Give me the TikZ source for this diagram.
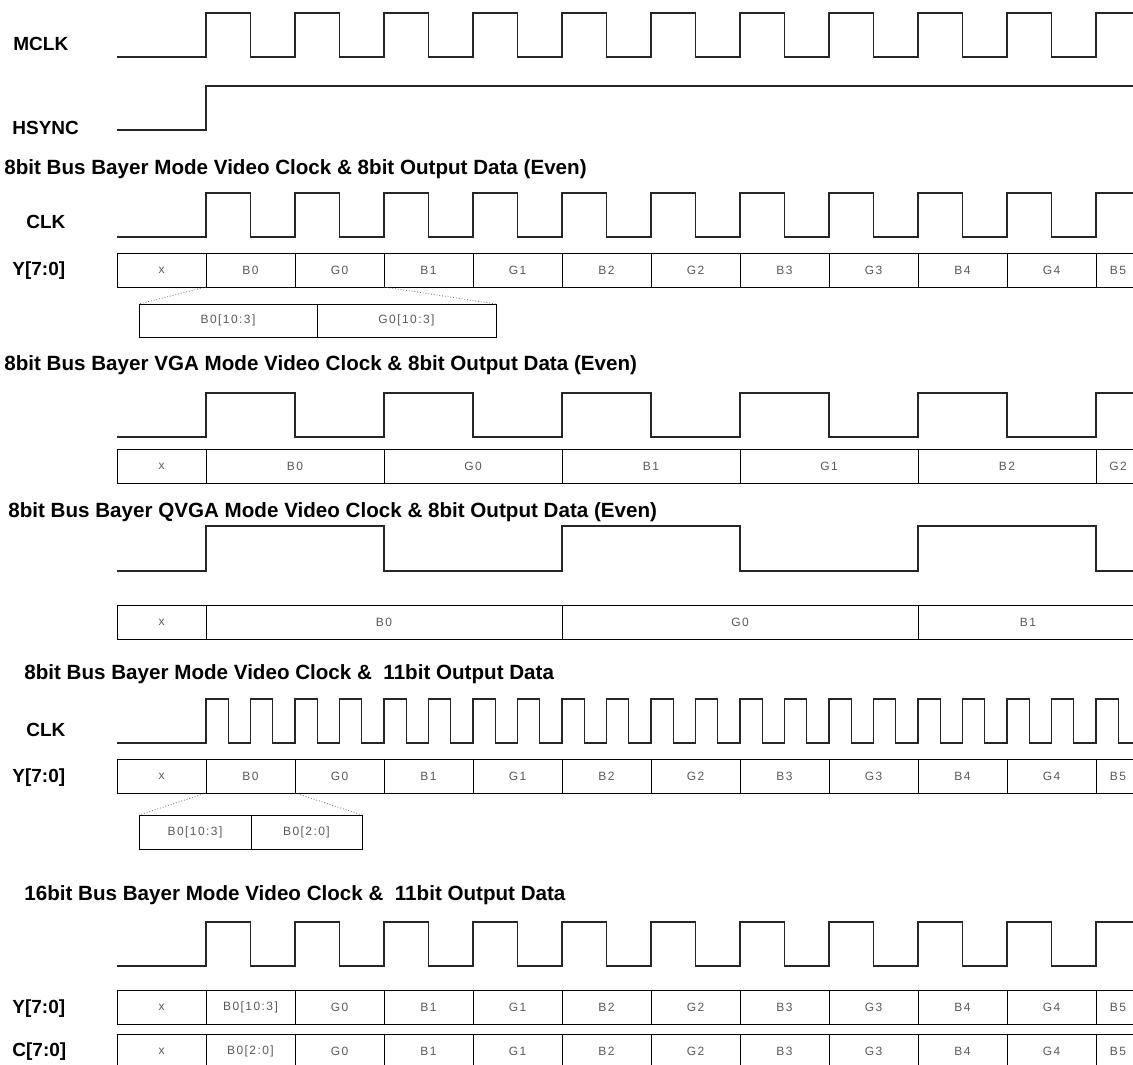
\documentclass[tikz,border=0pt]{standalone}
\usepackage{fontspec}
\setmainfont{Liberation Sans}
\newfontfamily\cellfont[LetterSpace=12]{Liberation Sans}
\usetikzlibrary{positioning}

\begin{document}
\begin{tikzpicture}[x=0.5pt, y=-0.5pt,
        sig/.style={line width=0.6pt, black!85},
        lbl/.style={anchor=west, inner sep=0pt, font=\bfseries\fontsize{9.5}{10}\selectfont},
        ttl/.style={anchor=west, inner sep=0pt, font=\bfseries\fontsize{10.3}{11}\selectfont},
        cell/.style={draw, line width=0.5pt, anchor=west, minimum height=17pt, inner sep=0pt, outer sep=0pt, font=\cellfont\fontsize{6}{6}\selectfont, text=black!65},
        zoomline/.style={densely dotted, line width=0.4pt, black!60}]
    \useasboundingbox (0,0) rectangle (1133,1064);

    % MCLK / HSYNC
    \node[lbl] (mclk) at (13,44) {MCLK};
    \node[lbl] (hsync) at (12,128) {HSYNC};
    \draw[sig] (117,57) -- (206,57) \foreach \k in {1,...,10}{ -- ++(0,-44) -- ++(44.5,0) -- ++(0,44) -- ++(44.5,0)} -- ++(0,-44) -- (1133,13);
    \draw[sig] (117,130) -- (206,130) -- (206,86) -- (1133,86);

    % 8bit bayer
    \node[ttl] (t1) at (4,169) {8bit Bus Bayer Mode Video Clock \& 8bit Output Data (Even)};
    \node[lbl] (clka) at (26,222) {CLK};
    \node[lbl] (ya) at (12,271) {Y[7:0]};
    \draw[sig] (117,237) -- (206,237) \foreach \k in {1,...,10}{ -- ++(0,-44) -- ++(44.5,0) -- ++(0,44) -- ++(44.5,0)} -- ++(0,-44) -- (1133,193);
    \node[cell, minimum width=44.5pt] (a0) at (117,270) {x};
    \foreach \t [count=\i] in {B0,G0,B1,G1,B2,G2,B3,G3,B4,G4}
        \node[cell, minimum width=44.5pt] (a\i) at ({117+89*\i},270) {\t};
    \node[cell, minimum width=22pt] (a11) at (1096,270) {B5};
    \node[cell, minimum width=89pt, minimum height=16.5pt] (ea1) at (139,320.5) {B0[10:3]};
    \node[cell, minimum width=89.5pt, minimum height=16.5pt] (ea2) at (317,320.5) {G0[10:3]};
    \draw[zoomline] (a1.south west) -- (ea1.north west);
    \draw[zoomline] (a3.south west) -- (ea2.north east);

    % VGA
    \node[ttl] (t2) at (4,365) {8bit Bus Bayer VGA Mode Video Clock \& 8bit Output Data (Even)};
    \draw[sig] (117,437) -- (206,437) \foreach \k in {1,...,5}{ -- ++(0,-44) -- ++(89,0) -- ++(0,44) -- ++(89,0)} -- ++(0,-44) -- (1133,393);
    \node[cell, minimum width=44.5pt] (b0) at (117,466) {x};
    \foreach \t [count=\i] in {B0,G0,B1,G1,B2}
        \node[cell, minimum width=89pt] (b\i) at ({28+178*\i},466) {\t};
    \node[cell, minimum width=22pt] (b6) at (1096,466) {G2};

    % QVGA
    \node[ttl] (t3) at (8,512) {8bit Bus Bayer QVGA Mode Video Clock \& 8bit Output Data (Even)};
    \draw[sig] (117,571) -- (206,571) \foreach \k in {1,2}{ -- ++(0,-45) -- ++(178,0) -- ++(0,45) -- ++(178,0)} -- ++(0,-45) -- ++(178,0) -- ++(0,45) -- (1133,571);
    \node[cell, minimum width=44.5pt] (c0) at (117,622) {x};
    \node[cell, minimum width=178pt] (c1) at (206,622) {B0};
    \node[cell, minimum width=178pt] (c2) at (562,622) {G0};
    \node[cell, minimum width=110pt] (c3) at (918,622) {B1};

    % 11bit on 8bit bus
    \node[ttl] (t4) at (24,674) {8bit Bus Bayer Mode Video Clock \&~ 11bit Output Data};
    \node[lbl] (clkd) at (26,730) {CLK};
    \node[lbl] (yd) at (12,778) {Y[7:0]};
    \draw[sig] (117,743) -- (206,743) \foreach \k in {1,...,20}{ -- ++(0,-44) -- ++(22.25,0) -- ++(0,44) -- ++(22.25,0)} -- ++(0,-44) -- ++(22.25,0) -- ++(0,44) -- (1133,743);
    \node[cell, minimum width=44.5pt] (d0) at (117,776) {x};
    \foreach \t [count=\i] in {B0,G0,B1,G1,B2,G2,B3,G3,B4,G4}
        \node[cell, minimum width=44.5pt] (d\i) at ({117+89*\i},776) {\t};
    \node[cell, minimum width=22pt] (d11) at (1096,776) {B5};
    \node[cell, minimum width=56pt] (ed1) at (139,832) {B0[10:3]};
    \node[cell, minimum width=55.5pt] (ed2) at (251,832) {B0[2:0]};
    \draw[zoomline] (d1.south west) -- (ed1.north west);
    \draw[zoomline] (d2.south west) -- (ed2.north east);

    % 16bit bus
    \node[ttl] (t5) at (24,895) {16bit Bus Bayer Mode Video Clock \&~ 11bit Output Data};
    \node[lbl] (ye) at (12,1009) {Y[7:0]};
    \node[lbl] (ce) at (12,1052) {C[7:0]};
    \draw[sig] (117,966) -- (206,966) \foreach \k in {1,...,10}{ -- ++(0,-44) -- ++(44.5,0) -- ++(0,44) -- ++(44.5,0)} -- ++(0,-44) -- (1133,922);
    \node[cell, minimum width=44.5pt] (ey0) at (117,1007) {x};
    \node[cell, minimum width=44.5pt] (ey1) at (206,1007) {B0[10:3]};
    \node[cell, minimum width=44.5pt] (ec0) at (117,1051) {x};
    \node[cell, minimum width=44.5pt] (ec1) at (206,1051) {B0[2:0]};
    \foreach \t [count=\i from 2] in {G0,B1,G1,B2,G2,B3,G3,B4,G4} {
        \node[cell, minimum width=44.5pt] (ey\i) at ({117+89*\i},1007) {\t};
        \node[cell, minimum width=44.5pt] (ec\i) at ({117+89*\i},1051) {\t};
    }
    \node[cell, minimum width=22pt] (ey11) at (1096,1007) {B5};
    \node[cell, minimum width=22pt] (ec11) at (1096,1051) {B5};
\end{tikzpicture}
\end{document}
